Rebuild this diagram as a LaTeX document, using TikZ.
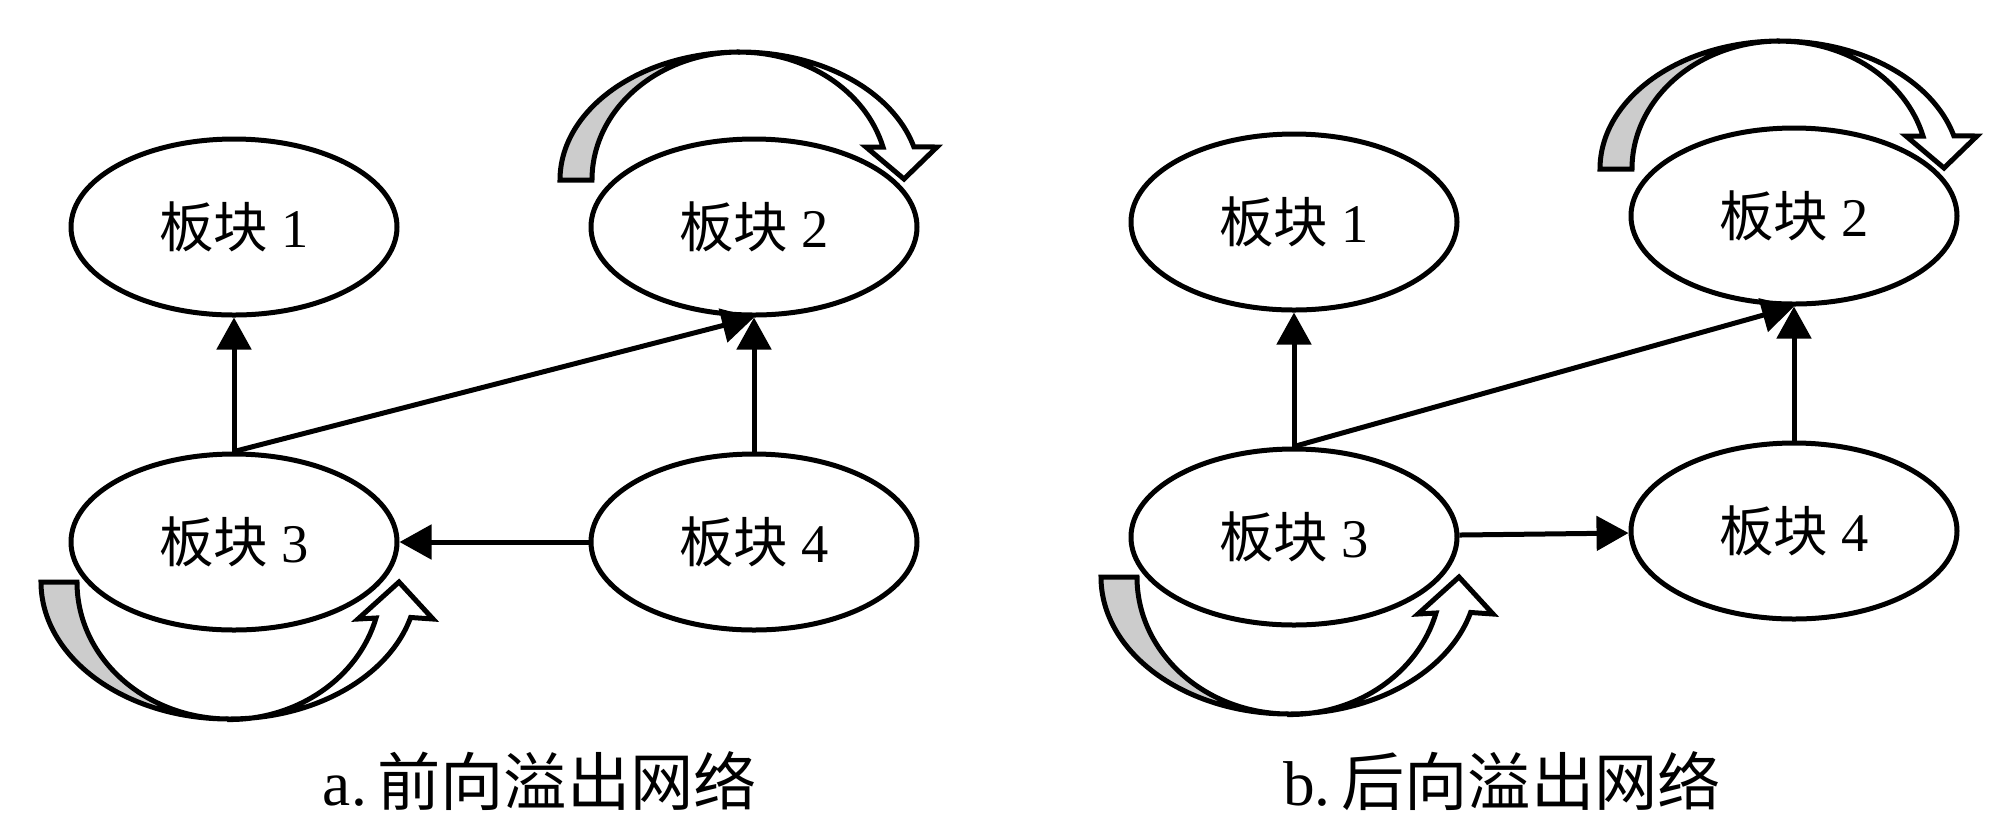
\documentclass[tikz,border=0pt]{standalone}
\usepackage{fontspec}
\setmainfont{Liberation Serif}
\newfontfamily\cjk{Noto Sans CJK SC}
\usetikzlibrary{arrows.meta,shapes}
\tikzstyle{plate} = [ellipse, draw, line width=0.5mm, fill=white, inner sep=0pt,
    minimum width=3.26cm, minimum height=1.76cm, font=\fontsize{15.5pt}{17pt}\selectfont]
\tikzstyle{band} = [draw, line width=0.5mm, line join=miter, -]
\tikzstyle{caption} = [font=\fontsize{18pt}{20pt}\selectfont]

% curved block arrow over a node
\newcommand{\toploop}[1]{%
  \begin{scope}[shift={(#1.center)}]
    \path[band, fill=gray!40] (-194,-47)
      arc[start angle=180, end angle=270, x radius=180, y radius=128]
      arc[start angle=270, end angle=180, x radius=148, y radius=128] -- cycle;
    \path[band, fill=white] (-14,-175)
      arc[start angle=270, end angle=345, x radius=180, y radius=128]
      -- (183,-80) -- (150,-48) -- (112,-80) -- (129,-80)
      arc[start angle=345, end angle=270, x radius=148, y radius=128] -- cycle;
  \end{scope}}
% curved block arrow under a node
\newcommand{\botloop}[1]{%
  \begin{scope}[shift={(#1.center)}]
    \path[band, fill=gray!40] (-193,40)
      arc[start angle=180, end angle=90, x radius=188, y radius=137]
      arc[start angle=90, end angle=180, x radius=152, y radius=137] -- cycle;
    \path[band, fill=white] (-5,177)
      arc[start angle=90, end angle=15, x radius=188, y radius=137]
      -- (199,77) -- (165,40) -- (124,77) -- (142,76)
      arc[start angle=15, end angle=90, x radius=152, y radius=137] -- cycle;
  \end{scope}}

\begin{document}
\begin{tikzpicture}[->,>={Triangle[length=3.2mm,width=3.4mm]},line width=0.5mm,
                    node distance=3.15cm,x=0.1mm,y=-0.1mm]
  \useasboundingbox (0,0) rectangle (2004,827);
  % a. forward
  \node[plate] (a3) at (234,542) {{\cjk 板块} 3};
  \node[plate,above of=a3] (a1) {{\cjk 板块} 1};
  \node[plate,right of=a3,xshift=2.05cm] (a4) {{\cjk 板块} 4};
  \node[plate,above of=a4] (a2) {{\cjk 板块} 2};
  \node[caption] (capa) at (540,781) {a.\,{\cjk 前向溢出网络}};

  \path (a3) edge (a1)
        (a3.north) edge (a2.south)
        (a4) edge (a2)
        (a4) edge (a3);
  \toploop{a2}
  \botloop{a3}

  % b. backward
  \node[plate] (b3) at (1294,537) {{\cjk 板块} 3};
  \node[plate,above of=b3] (b1) {{\cjk 板块} 1};
  \node[plate,right of=b3,xshift=1.85cm,yshift=0.6mm] (b4) {{\cjk 板块} 4};
  \node[plate,above of=b4] (b2) {{\cjk 板块} 2};
  \node[caption] (capb) at (1502,781) {b.\,{\cjk 后向溢出网络}};

  \path (b3) edge (b1)
        (b3.north) edge (b2.south)
        (b4) edge (b2)
        (b3) edge (b4);
  \toploop{b2}
  \botloop{b3}
\end{tikzpicture}
\end{document}
